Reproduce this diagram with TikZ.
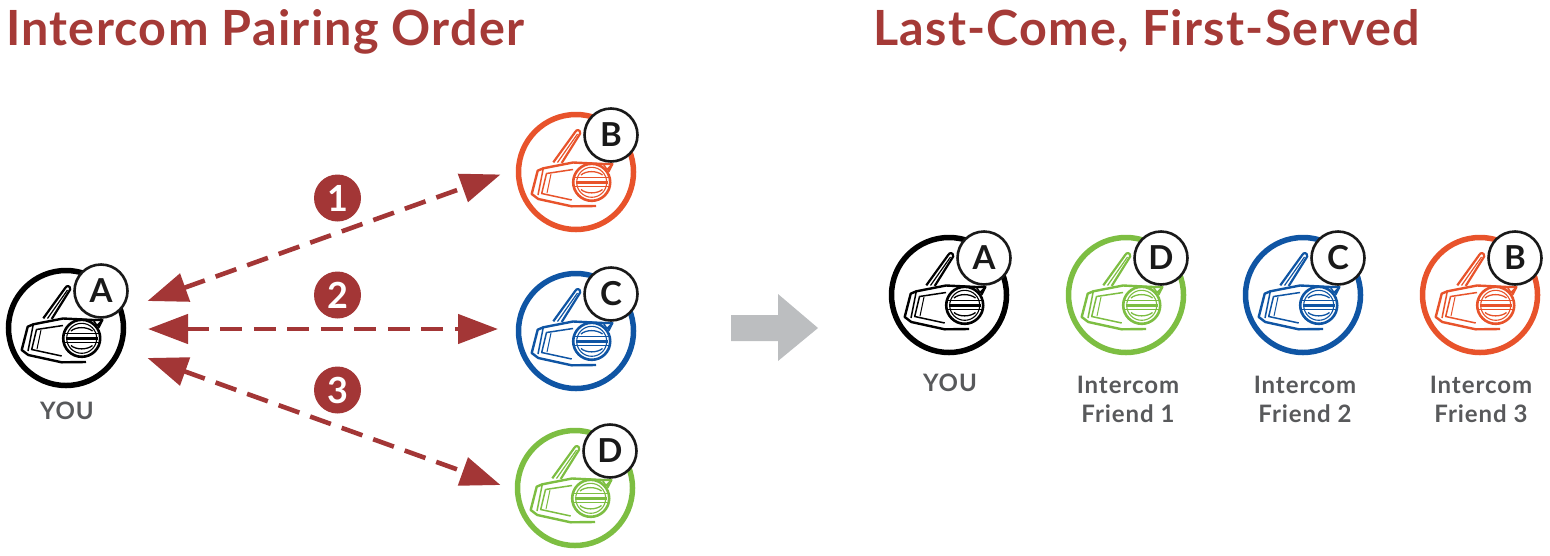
\documentclass[tikz,border=0pt]{standalone}
\usepackage{fontspec}
\setmainfont{Lato Bold}
\newfontfamily\titlefont[LetterSpace=2.6]{Lato Bold}
\newfontfamily\capfont[LetterSpace=4]{Lato Bold}
\usetikzlibrary{arrows.meta}
\definecolor{titlered}{HTML}{A53A37}
\definecolor{arrowred}{HTML}{A33636}
\definecolor{devorange}{HTML}{E8532B}
\definecolor{devblue}{HTML}{0F55A4}
\definecolor{devgreen}{HTML}{7DBE42}
\definecolor{labelgray}{HTML}{58595B}
\definecolor{biggray}{HTML}{BCBEC0}
\tikzset{
  x=1pt,y=-1pt,
  ring/.style={circle,draw=#1,line width=5.5pt,minimum size=115pt,inner sep=0pt,fill=white},
  badge/.style={circle,draw=black!90,line width=2.6pt,minimum size=53pt,inner sep=0pt,fill=white,font=\fontsize{33}{33}\selectfont,text=black!90},
  numdot/.style={circle,fill=arrowred,minimum size=47pt,inner sep=0pt,text=white,font=\fontsize{36}{36}\selectfont},
  pairarrow/.style={arrowred,line width=4.6pt,dash pattern=on 22pt off 11.5pt,{Triangle[length=40pt,width=29pt]}-{Triangle[length=40pt,width=29pt]}},
  caption/.style={text=labelgray,font=\capfont\fontsize{24}{29}\selectfont,align=center},
  titletext/.style={text=titlered,anchor=base west,inner sep=0pt,font=\titlefont\fontsize{48.5}{48.5}\selectfont},
  device/.pic={
    \begin{scope}[line join=round,line width=1.5pt]
      % antenna
      \draw[line width=2.2pt] (-22.7,-9.7) -- (-0.8,-40) .. controls (0.5,-43) and (4.5,-42.5) .. (4.2,-38.5) -- (-14.3,-9);
      \draw[line width=1.2pt] (-18.5,-9.5) -- (1.5,-38);
      % body
      \draw[line width=2.4pt] (-32.7,-3.7) -- (-38.3,-1.3) -- (-44.3,22) -- (-37.7,27) -- (-4.3,34.3) -- (20,34)
        (-32.7,-3.7) -- (-3,-9.5) -- (27.3,-8) -- (36.3,-8) -- (32.3,-0.3);
      \draw[line width=1.5pt] (-32.7,-3.7) -- (-38,23);
      \draw[line width=1.5pt] (27.3,-8) -- (31,-2.5) -- (36.3,-8);
      % screen
      \draw[line width=1.5pt] (-29.5,1.5) -- (-3,-2.5) (-29.5,1.5) -- (-34.3,21.5) -- (-4.3,28);
      \draw[line width=1pt] (-25,2) -- (-29,21);
      % knob
      \draw[line width=2.6pt,fill=white] (15.7,10.3) circle (18.5);
      \draw[line width=1.1pt] (15.7,10.3) circle (15);
      \draw[line width=3pt] (-0.5,10) -- (32,10);
      \draw[line width=1.1pt] (-1.5,5.5) -- (33,5.5) (-1.5,14.5) -- (33,14.5);
      \draw[line width=1.3pt] (5,3) .. controls (10,-1.5) and (21,-1.5) .. (26.5,3)
        (5,17.5) .. controls (10,22) and (21,22) .. (26.5,17.5);
    \end{scope}
  },
}
\newcommand{\headset}[6]{% name, x, y, colour, letter, badge name
  \node[ring=#4] (#1) at (#2,#3) {};
  \pic[#4] at (#2,#3) {device};
  \node[badge] (#6) at ([xshift=35pt,yshift=37pt]#1.center) {#5};
}
\begin{document}
\begin{tikzpicture}
\useasboundingbox (0,0) rectangle (1550,555);
\node[titletext] (t1) at (6,45) {Intercom Pairing Order};
\node[titletext] (t2) at (873,45) {Last-Come, First-Served};

\headset{la}{66}{328}{black}{A}{lab}
\headset{lb}{576}{172}{devorange}{B}{lbb}
\headset{lc}{576}{331}{devblue}{C}{lcb}
\headset{ld}{575}{488}{devgreen}{D}{ldb}
\node[caption] (youl) at (67,411) {YOU};

\coordinate (a1) at (147.5,301);
\coordinate (b1) at (500.5,174.5);
\coordinate (a2) at (148,329);
\coordinate (b2) at (498,329);
\coordinate (a3) at (147.5,358);
\coordinate (b3) at (500.5,485);
\draw[pairarrow] (a1) -- (b1);
\draw[pairarrow] (a2) -- (b2);
\draw[pairarrow] (a3) -- (b3);
\node[numdot] (n1) at (337.5,198) {1};
\node[numdot] (n2) at (337.5,295) {2};
\node[numdot] (n3) at (337.5,390) {3};

\fill[biggray] (731,315) -- (778,315) -- (778,294) -- (818,328) -- (778,361) -- (778,341) -- (731,341) -- cycle;

\headset{ra}{949}{295}{black}{A}{rab}
\headset{rd}{1126}{295}{devgreen}{D}{rdb}
\headset{rc}{1303}{295}{devblue}{C}{rcb}
\headset{rb}{1480}{295}{devorange}{B}{rbb}
\node[caption] (youa) at (950,383) {YOU};
\node[caption] (f1) at (1128,399) {Intercom\\Friend 1};
\node[caption] (f2) at (1305,399) {Intercom\\Friend 2};
\node[caption] (f3) at (1481,399) {Intercom\\Friend 3};
\end{tikzpicture}
\end{document}
